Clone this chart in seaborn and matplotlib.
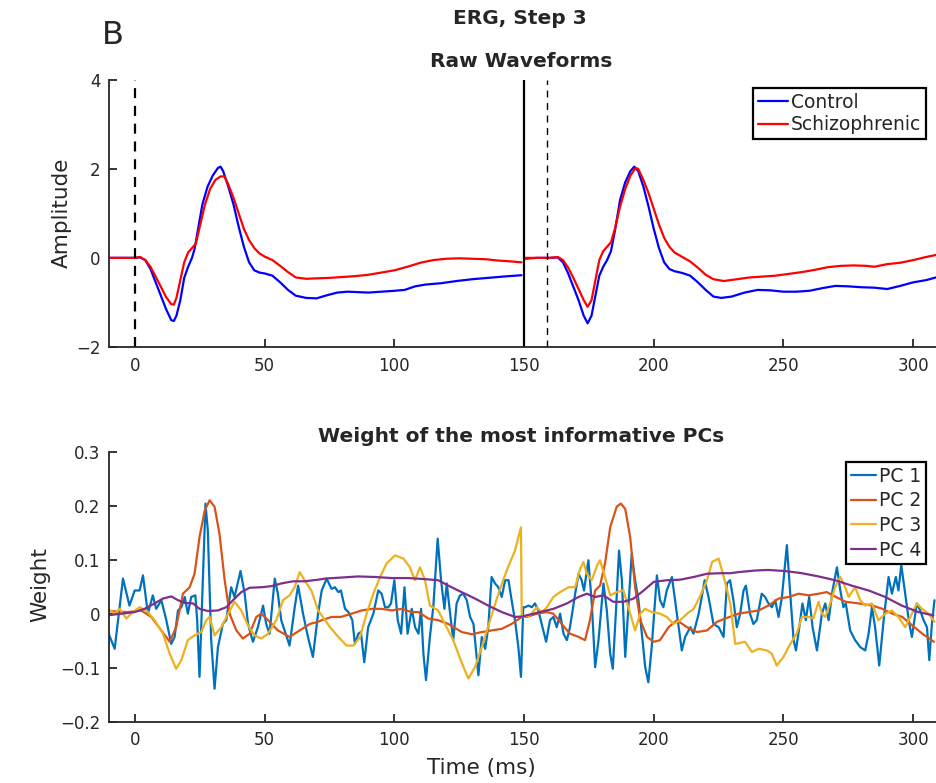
import matplotlib
matplotlib.use('Agg')
import matplotlib.pyplot as plt
import seaborn as sns

# ── Data ─────────────────────────────────────────────────────────────────────
# Raw waveforms, first flash (0-150 ms)
CTRL1_T = [-10, -5, 0, 2, 4, 6, 8, 10, 12, 14, 15, 16, 17.5, 19, 20.5, 22, 23, 24.5, 26, 28,
           30, 32, 33, 34, 36, 38, 40, 42, 44, 46, 48, 50, 53, 56, 59, 62, 66, 70, 74, 78,
           82, 86, 90, 95, 100, 104, 108, 112, 118, 124, 130, 136, 142, 149]
CTRL1_A = [0.0, 0.0, 0.0, 0.01, -0.05, -0.25, -0.55, -0.85, -1.15, -1.4, -1.42, -1.3, -0.95, -0.45,
           -0.2, 0.0, 0.2, 0.7, 1.2, 1.6, 1.85, 2.02, 2.05, 1.95, 1.6, 1.2, 0.7, 0.25, -0.1, -0.28,
           -0.33, -0.35, -0.4, -0.55, -0.72, -0.85, -0.9, -0.91, -0.84, -0.78, -0.76, -0.77, -0.78,
           -0.76, -0.74, -0.72, -0.64, -0.6, -0.57, -0.52, -0.48, -0.45, -0.42, -0.39]
SCZ1_T = [-10, 0, 2, 4, 6, 8, 10, 12, 14, 15, 16, 17.5, 19, 20.5, 22, 23.5, 25, 27, 29, 31,
          33, 34.5, 36, 38, 40, 42, 44, 46, 48, 50, 53, 56, 59, 62, 66, 70, 75, 80, 85, 90,
          95, 100, 105, 110, 115, 120, 125, 130, 135, 140, 145, 149]
SCZ1_A = [0.0, 0.0, 0.02, -0.05, -0.2, -0.42, -0.65, -0.88, -1.04, -1.05, -0.9, -0.5, -0.1, 0.12,
          0.22, 0.32, 0.7, 1.2, 1.55, 1.75, 1.83, 1.83, 1.65, 1.35, 1.0, 0.65, 0.4, 0.22, 0.1, 0.03,
          -0.05, -0.18, -0.32, -0.44, -0.47, -0.46, -0.45, -0.43, -0.41, -0.38, -0.33, -0.28, -0.2,
          -0.11, -0.05, -0.02, -0.01, -0.02, -0.03, -0.06, -0.08, -0.1]
# Raw waveforms, second flash (150-310 ms)
CTRL2_T = [150, 155, 160, 163, 165, 167, 169, 171, 173, 174.5, 176, 177.5, 179, 180.5, 182, 183.5,
           185, 187, 189, 191, 192.5, 194, 196, 198, 200, 202, 204, 206, 208, 211, 214, 217, 220,
           223, 226, 230, 235, 240, 245, 250, 255, 260, 265, 270, 275, 280, 285, 290, 295, 300,
           305, 310]
CTRL2_A = [-0.02, 0.0, 0.0, 0.01, -0.1, -0.35, -0.65, -0.95, -1.3, -1.47, -1.3, -0.85, -0.4, -0.2,
           -0.05, 0.15, 0.6, 1.3, 1.7, 1.95, 2.05, 1.95, 1.6, 1.15, 0.65, 0.22, -0.1, -0.25, -0.3,
           -0.34, -0.4, -0.55, -0.72, -0.87, -0.9, -0.87, -0.78, -0.72, -0.73, -0.76, -0.76, -0.74,
           -0.68, -0.63, -0.64, -0.66, -0.67, -0.7, -0.63, -0.55, -0.5, -0.42]
SCZ2_T = [150, 155, 160, 163, 165, 167, 169, 171, 173, 174.5, 176, 177.5, 179, 180.5, 182, 183.5,
          185, 187, 189, 191, 193, 194, 196, 198, 200, 202, 204, 206, 208, 211, 214, 217, 220,
          223, 227, 232, 237, 242, 247, 252, 257, 262, 267, 272, 277, 282, 285, 290, 295, 300,
          305, 310]
SCZ2_A = [0.0, 0.0, 0.0, 0.02, -0.05, -0.22, -0.45, -0.7, -0.95, -1.1, -0.95, -0.5, -0.05, 0.15,
          0.25, 0.35, 0.65, 1.15, 1.55, 1.85, 2.02, 2.0, 1.75, 1.45, 1.1, 0.75, 0.45, 0.25, 0.12,
          0.02, -0.08, -0.22, -0.38, -0.48, -0.52, -0.48, -0.44, -0.42, -0.4, -0.36, -0.32, -0.27,
          -0.21, -0.18, -0.17, -0.18, -0.2, -0.14, -0.11, -0.05, 0.02, 0.08]

# PC weights
PC1_T = [-10.4, -7.8, -4.6, -2.1, -0.1, 1.8, 3.1, 5.0, 6.9, 8.2,
         10.2, 12.1, 14.0, 15.3, 16.6, 17.9, 19.2, 20.4, 21.7, 23.3,
         24.0, 24.9, 26.2, 27.2, 28.1, 29.4, 30.7, 32.0, 33.9, 35.2,
         37.1, 38.4, 40.7, 42.3, 43.6, 45.5, 47.4, 49.4, 50.6, 51.9,
         53.9, 55.1, 56.4, 59.6, 61.6, 62.9, 64.8, 66.7, 68.6, 70.6,
         72.0, 73.9, 75.8, 77.1, 78.4, 79.4, 81.0, 82.3, 83.8, 84.8,
         86.1, 87.1, 88.4, 89.9, 91.9, 93.8, 95.1, 96.4, 97.7, 98.7,
         100.0, 101.3, 102.6, 103.9, 105.1, 106.7, 108.0, 109.3, 110.3, 111.2,
         112.2, 113.7, 115.0, 116.7, 118.0, 119.3, 120.2, 121.5, 122.7, 124.0,
         125.3, 126.6, 127.9, 129.2, 130.5, 131.1, 132.4, 133.7, 135.0, 136.2,
         137.5, 138.8, 140.1, 141.4, 142.7, 144.0, 145.2, 146.5, 147.8, 148.8,
         149.7, 150.4, 151.7, 153.0, 154.2, 155.5, 156.8, 158.5, 160.0, 161.3,
         162.6, 163.9, 165.2, 166.5, 167.7, 169.7, 171.0, 172.2, 173.1, 174.8,
         176.1, 177.4, 178.7, 180.6, 181.9, 183.2, 184.2, 185.5, 186.6, 187.7,
         189.0, 190.2, 191.5, 192.8, 194.1, 195.4, 196.7, 197.9, 199.2, 201.2,
         202.4, 203.7, 205.0, 207.0, 208.9, 210.8, 212.1, 214.1, 215.3, 217.3,
         218.5, 219.6, 221.1, 223.0, 225.0, 226.9, 228.2, 229.4, 230.7, 232.0,
         233.3, 234.6, 235.5, 237.1, 238.4, 239.7, 241.6, 242.9, 244.2, 245.5,
         246.8, 248.1, 249.4, 251.3, 252.6, 253.9, 254.8, 256.1, 257.3, 258.6,
         259.9, 261.2, 262.9, 264.8, 266.1, 267.4, 268.9, 270.6, 271.9, 273.1,
         274.0, 275.7, 277.6, 279.6, 281.5, 282.8, 284.1, 285.3, 286.9, 288.6,
         290.5, 291.8, 293.3, 294.3, 295.4, 296.9, 298.5, 299.5, 301.4, 302.7,
         304.0, 305.3, 306.2, 307.2, 308.2]
PC1_W = [-0.034, -0.065, 0.065, 0.015, 0.043, 0.043, 0.071, 0.0, 0.034, 0.009,
         0.025, -0.012, -0.056, -0.043, 0.006, 0.012, 0.031, 0.0, 0.031, 0.034,
         -0.012, -0.117, 0.062, 0.204, 0.154, -0.049, -0.139, -0.062, -0.019, -0.012,
         0.049, 0.031, 0.079, 0.037, -0.019, -0.052, -0.025, 0.015, -0.019, -0.037,
         0.065, 0.037, -0.012, -0.059, 0.012, 0.052, 0.0, -0.043, -0.080, 0.0,
         0.043, 0.065, 0.046, 0.049, 0.040, 0.043, 0.009, 0.003, -0.012, -0.056,
         -0.037, -0.034, -0.090, -0.025, 0.0, 0.043, 0.037, 0.012, 0.012, 0.019,
         0.062, -0.012, -0.037, 0.049, -0.037, 0.009, -0.025, -0.037, 0.009, -0.074,
         -0.123, -0.043, 0.012, 0.139, 0.062, 0.009, 0.056, 0.0, -0.049, 0.019,
         0.034, 0.037, 0.025, -0.006, -0.019, -0.049, -0.114, -0.043, -0.065, -0.025,
         0.068, 0.056, 0.049, 0.031, 0.062, 0.062, 0.025, -0.012, -0.062, -0.117,
         0.012, 0.012, 0.015, 0.012, 0.019, 0.006, -0.019, -0.052, -0.012, -0.006,
         -0.025, 0.0, -0.037, -0.049, -0.025, 0.037, 0.074, 0.062, 0.043, 0.099,
         0.019, -0.099, -0.049, 0.056, 0.006, -0.074, -0.102, 0.012, 0.117, 0.062,
         -0.080, 0.012, 0.111, 0.062, 0.025, -0.037, -0.099, -0.127, -0.062, 0.071,
         0.025, 0.012, 0.043, 0.068, 0.0, -0.068, -0.043, -0.025, -0.037, 0.0,
         0.031, 0.062, 0.031, -0.019, -0.025, -0.043, 0.056, 0.062, 0.025, -0.025,
         0.0, 0.043, 0.052, 0.0, -0.019, -0.012, 0.037, 0.031, 0.019, 0.012,
         0.025, -0.006, 0.031, 0.127, 0.037, -0.049, -0.068, -0.025, 0.019, -0.012,
         0.031, -0.025, -0.068, 0.0, 0.019, -0.012, 0.043, 0.086, 0.043, 0.012,
         0.019, -0.031, -0.049, -0.062, -0.068, -0.037, 0.012, -0.025, -0.096, -0.012,
         0.068, 0.037, 0.068, 0.043, 0.090, 0.037, -0.019, -0.043, 0.019, 0.006,
         -0.012, -0.025, -0.086, -0.019, 0.025]

PC2_T = [-10.4, -2.7, 2.4, 6.3, 10.2, 13.4, 15.9, 18.5, 21.1, 23.0,
         24.9, 26.9, 28.8, 30.7, 32.6, 34.6, 36.5, 39.1, 41.6, 44.2,
         46.8, 48.7, 51.3, 55.1, 59.6, 63.5, 67.4, 70.6, 72.0, 75.8,
         79.4, 83.5, 87.4, 91.3, 95.1, 99.1, 102.8, 106.7, 109.3, 113.1,
         116.9, 120.8, 126.0, 129.9, 133.7, 137.5, 141.4, 145.2, 149.1, 151.0,
         154.9, 158.8, 161.3, 164.5, 167.7, 171.0, 173.5, 175.4, 177.4, 179.3,
         181.2, 183.2, 185.7, 187.3, 189.0, 190.9, 192.8, 194.8, 197.4, 200.0,
         202.4, 205.7, 208.9, 212.8, 216.7, 220.5, 224.4, 227.5, 232.6, 236.5,
         240.4, 244.2, 248.1, 252.0, 255.8, 259.7, 263.5, 266.7, 270.2, 274.0,
         279.1, 284.3, 288.1, 292.0, 295.8, 299.7, 303.5, 308.0]
PC2_W = [0.005, 0.003, 0.006, -0.006, -0.031, -0.052, -0.025, 0.037, 0.049, 0.074,
         0.142, 0.191, 0.210, 0.198, 0.148, 0.062, 0.0, -0.031, -0.046, -0.037,
         -0.006, 0.0, -0.012, -0.031, -0.043, -0.031, -0.019, -0.015, -0.012, -0.006,
         -0.006, 0.0, 0.006, 0.009, 0.009, 0.006, 0.009, 0.003, 0.003, -0.009,
         -0.012, -0.019, -0.034, -0.038, -0.034, -0.031, -0.028, -0.019, -0.006, -0.006,
         0.0, 0.003, 0.0, -0.019, -0.037, -0.043, -0.049, -0.012, 0.043, 0.052,
         0.093, 0.160, 0.198, 0.204, 0.194, 0.142, 0.049, -0.012, -0.043, -0.052,
         -0.049, -0.025, -0.012, -0.025, -0.034, -0.031, -0.015, -0.009, 0.0, 0.003,
         0.006, 0.015, 0.028, 0.031, 0.037, 0.034, 0.037, 0.040, 0.031, 0.022,
         0.019, 0.015, 0.009, 0.0, -0.006, -0.022, -0.037, -0.052]

PC3_T = [-10.4, -7.8, -5.9, -3.3, -0.8, 1.8, 4.4, 7.6, 10.8, 13.4,
         15.9, 17.9, 20.4, 23.0, 25.6, 27.5, 28.8, 30.7, 33.3, 35.9,
         38.4, 41.0, 43.6, 46.1, 48.7, 51.3, 54.5, 57.1, 59.6, 61.6,
         63.5, 65.4, 68.0, 70.6, 72.0, 75.2, 78.4, 81.6, 84.2, 86.8,
         89.3, 91.9, 94.5, 97.0, 100.3, 103.5, 106.0, 107.9, 109.9, 111.8,
         113.7, 116.9, 119.5, 122.7, 125.9, 128.5, 131.1, 133.7, 136.9, 140.1,
         143.3, 146.5, 148.8, 149.1, 149.7, 152.3, 154.9, 156.8, 158.8, 161.3,
         163.9, 167.1, 169.7, 171.6, 172.9, 174.2, 176.1, 178.2, 179.3, 181.2,
         183.2, 185.7, 188.3, 190.9, 192.8, 194.8, 196.7, 199.2, 202.4, 205.0,
         207.6, 210.2, 212.8, 215.4, 218.0, 220.5, 222.5, 225.0, 227.0, 229.5,
         231.4, 235.2, 237.8, 240.4, 243.6, 245.5, 247.4, 250.0, 252.6, 255.1,
         257.1, 259.7, 261.5, 263.5, 264.8, 266.1, 268.0, 269.9, 271.9, 273.8,
         275.1, 277.6, 279.6, 281.5, 284.1, 286.6, 289.2, 291.8, 294.3, 296.9,
         299.5, 301.4, 303.4, 305.9, 308.2]
PC3_W = [0.009, 0.0, 0.009, -0.009, 0.003, 0.012, 0.006, -0.012, -0.037, -0.074,
         -0.102, -0.086, -0.049, -0.040, -0.034, -0.012, -0.006, -0.040, -0.025, 0.0,
         0.022, 0.006, -0.022, -0.040, -0.046, -0.037, -0.012, 0.025, 0.034, 0.049,
         0.077, 0.062, 0.043, 0.006, -0.003, -0.025, -0.043, -0.059, -0.059, -0.043,
         0.0, 0.037, 0.068, 0.093, 0.108, 0.102, 0.086, 0.062, 0.086, 0.062,
         0.015, 0.006, -0.019, -0.049, -0.090, -0.120, -0.099, -0.062, -0.012, 0.037,
         0.080, 0.117, 0.160, -0.003, -0.006, -0.003, 0.012, 0.003, 0.012, 0.031,
         0.040, 0.049, 0.049, 0.083, 0.096, 0.074, 0.062, 0.090, 0.099, 0.068,
         0.034, 0.040, 0.043, 0.0, -0.031, 0.0, 0.009, 0.003, 0.0, -0.006,
         -0.019, -0.012, 0.0, 0.009, 0.034, 0.062, 0.096, 0.102, 0.068, 0.019,
         -0.056, -0.052, -0.071, -0.065, -0.068, -0.074, -0.096, -0.080, -0.056, -0.037,
         -0.006, -0.006, -0.009, 0.022, 0.0, -0.006, 0.019, 0.049, 0.068, 0.049,
         0.031, 0.049, 0.025, 0.015, 0.019, -0.012, 0.0, 0.006, -0.006, -0.025,
         0.0, 0.019, 0.009, 0.0, -0.015]

PC4_T = [-10.4, -5.3, -0.1, 3.7, 7.6, 10.8, 14.0, 16.6, 19.2, 22.4,
         24.9, 28.1, 32.0, 35.2, 37.8, 41.0, 44.2, 48.7, 52.6, 56.4,
         60.9, 65.4, 70.6, 73.3, 79.7, 86.1, 92.5, 99.0, 105.4, 111.8,
         116.9, 120.8, 125.9, 131.1, 136.2, 141.4, 146.5, 149.7, 151.0, 156.2,
         161.3, 166.5, 171.0, 174.2, 177.4, 180.6, 184.4, 188.3, 192.2, 196.1,
         200.0, 205.1, 210.2, 215.4, 220.5, 225.6, 229.5, 232.6, 239.1, 244.2,
         250.6, 257.1, 263.5, 269.9, 276.3, 282.8, 289.2, 295.6, 302.0, 307.8]
PC4_W = [-0.003, 0.0, 0.003, 0.009, 0.019, 0.028, 0.032, 0.025, 0.020, 0.019,
         0.009, 0.005, 0.006, 0.012, 0.025, 0.040, 0.048, 0.049, 0.051, 0.056,
         0.060, 0.060, 0.063, 0.065, 0.067, 0.069, 0.068, 0.066, 0.066, 0.064,
         0.062, 0.052, 0.040, 0.028, 0.015, 0.003, -0.006, -0.005, -0.003, 0.003,
         0.009, 0.019, 0.031, 0.037, 0.031, 0.034, 0.022, 0.022, 0.028, 0.043,
         0.059, 0.062, 0.063, 0.068, 0.074, 0.075, 0.075, 0.077, 0.080, 0.081,
         0.079, 0.075, 0.069, 0.062, 0.052, 0.043, 0.031, 0.015, 0.003, -0.003]

PC_LABELS = ['PC 1', 'PC 2', 'PC 3', 'PC 4']
PC_COLORS = ['#0072BD', '#D95319', '#EDB120', '#7E2F8E']

X_TICKS = [0, 50, 100, 150, 200, 250, 300]
AMP_TICKS = [-2, 0, 2, 4]
W_TICKS = [-0.2, -0.1, 0.0, 0.1, 0.2, 0.3]
W_TICKLABELS = ['\u22120.2', '\u22120.1', '0', '0.1', '0.2', '0.3']

# ── Style ────────────────────────────────────────────────────────────────────
sns.set_style('ticks')
plt.rcParams.update({
    'font.family': ['DejaVu Sans'],
    'axes.linewidth': 1.3,
    'xtick.direction': 'in',
    'ytick.direction': 'in',
    'xtick.major.size': 6,
    'ytick.major.size': 6,
    'xtick.major.width': 1.3,
    'ytick.major.width': 1.3,
    'xtick.labelsize': 12,
    'ytick.labelsize': 12,
    'xtick.color': '#262626',
    'ytick.color': '#262626',
    'xtick.major.pad': 7,
    'ytick.major.pad': 6,
})
TITLE_FONT = ['Liberation Sans Narrow', 'DejaVu Sans']

fig = plt.figure(figsize=(9.37, 7.83), dpi=100)
ax1 = fig.add_axes([0.1163, 0.557, 0.886, 0.341])
ax2 = fig.add_axes([0.1163, 0.0783, 0.886, 0.3448])


def line(ax, t, v, color, label=None, lw=1.6):
    sns.lineplot(x=t, y=v, color=color, lw=lw, ax=ax, label=label,
                 estimator=None, sort=False, legend=False)


def boxed_legend(ax, anchor, size, spacing, handle):
    leg = ax.legend(loc='upper right', bbox_to_anchor=anchor, fontsize=size,
                    frameon=True, fancybox=False, framealpha=1, edgecolor='k',
                    borderpad=0.25, handlelength=handle, handletextpad=0.15,
                    labelspacing=spacing, borderaxespad=0)
    leg.get_frame().set_linewidth(1.6)
    return leg


# ── Top: raw waveforms ───────────────────────────────────────────────────────
line(ax1, CTRL1_T, CTRL1_A, '#0000FF', 'Control')
line(ax1, SCZ1_T, SCZ1_A, '#FF0000', 'Schizophrenic')
line(ax1, CTRL2_T, CTRL2_A, '#0000FF')
line(ax1, SCZ2_T, SCZ2_A, '#FF0000')
ax1.axvline(0, color='k', ls=(0, (4.5, 3.5)), lw=1.6)
ax1.axvline(159, color='k', ls=(0, (5, 4)), lw=1.0)
ax1.axvline(150, color='k', lw=1.6)

ax1.set_xlim(-10, 310)
ax1.set_ylim(-2, 4)
ax1.set_xticks(X_TICKS)
ax1.set_yticks(AMP_TICKS)
ax1.set_xlabel('')
ax1.set_ylabel('')
sns.despine(ax=ax1)
boxed_legend(ax1, (0.984, 0.97), 13.5, 0.2, 1.6)

# ── Bottom: PC weights ───────────────────────────────────────────────────────
for t, w, c, lab in zip([PC1_T, PC2_T, PC3_T, PC4_T], [PC1_W, PC2_W, PC3_W, PC4_W],
                        PC_COLORS, PC_LABELS):
    line(ax2, t, w, c, lab)

ax2.set_xlim(-10, 310)
ax2.set_ylim(-0.2, 0.3)
ax2.set_xticks(X_TICKS)
ax2.set_yticks(W_TICKS)
ax2.set_yticklabels(W_TICKLABELS)
ax2.set_xlabel('')
ax2.set_ylabel('')
sns.despine(ax=ax2)
boxed_legend(ax2, (0.984, 0.962), 13.5, 0.3, 1.35)

# ── Texts ────────────────────────────────────────────────────────────────────
fig.text(0.555, 0.977, 'ERG, Step 3', ha='center', va='center', fontsize=14.5,
         fontweight='bold', family=TITLE_FONT)
fig.text(0.556, 0.921, 'Raw Waveforms', ha='center', va='center', fontsize=14.5,
         fontweight='bold', family=TITLE_FONT)
fig.text(0.556, 0.442, 'Weight of the most informative PCs', ha='center', va='center',
         fontsize=14.5, fontweight='bold', family=TITLE_FONT)
fig.text(0.12, 0.955, 'B', ha='center', va='center', fontsize=23)
fig.text(0.066, 0.728, 'Amplitude', ha='center', va='center', rotation=90,
         fontsize=15.5, color='#262626')
fig.text(0.043, 0.253, 'Weight', ha='center', va='center', rotation=90,
         fontsize=15.5, color='#262626')
fig.text(0.514, 0.019, 'Time (ms)', ha='center', va='center', fontsize=15.5,
         color='#262626')

fig.savefig('out.png', dpi=100, facecolor='white')
